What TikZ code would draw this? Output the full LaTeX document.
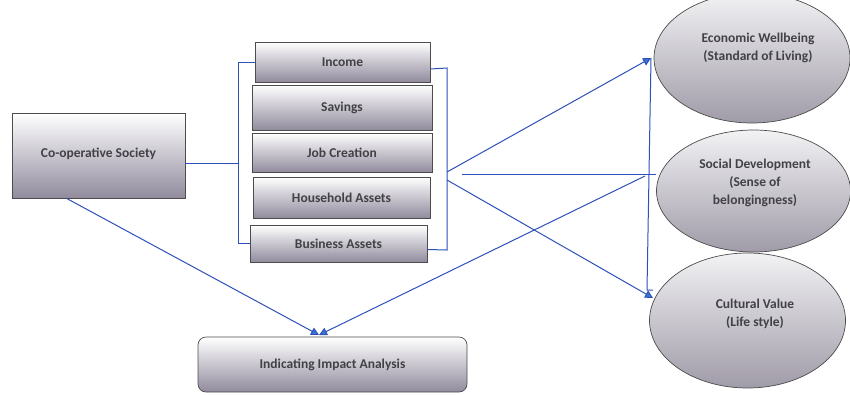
\documentclass[tikz,border=0pt]{standalone}
\usepackage{fontspec}
\setmainfont{Carlito}
\usetikzlibrary{shapes.geometric,arrows.meta}
\definecolor{linkblue}{RGB}{45,80,185}
\definecolor{tipblue}{RGB}{60,115,210}
\definecolor{boxbot}{RGB}{145,139,157}
\definecolor{elltop}{RGB}{242,242,244}
\definecolor{ellbot}{RGB}{160,155,168}
\definecolor{txt}{RGB}{65,65,70}
\tikzset{
  box/.style={draw=black!70, line width=0.7pt, top color=white, bottom color=boxbot,
    font=\bfseries\fontsize{13.5}{16}\selectfont, text=txt, inner sep=0pt, align=center},
  ell/.style={ellipse, draw=black!70, line width=0.7pt, top color=elltop, bottom color=ellbot, inner sep=0pt},
  etext/.style={font=\bfseries\fontsize{13.5}{18}\selectfont, text=txt, align=center, inner sep=0pt},
  link/.style={draw=linkblue, line width=1pt},
  arr/.style={link, -{Triangle[length=8pt,width=8pt,fill=tipblue]}}
}
\begin{document}
\begin{tikzpicture}[x=1pt,y=-1pt]
\useasboundingbox (0,0) rectangle (850,394);
% left boxes
\node[box, minimum width=173pt, minimum height=85pt] (coop) at (98.5,155.5) {\raisebox{6pt}{Co-operative Society}};
\node[box, minimum width=175pt, minimum height=40pt] (income) at (342.5,62) {Income};
\node[box, minimum width=180pt, minimum height=45pt] (savings) at (342,107.5) {Savings};
\node[box, minimum width=180pt, minimum height=39pt] (job) at (342,152.5) {Job Creation};
\node[box, minimum width=177pt, minimum height=41pt] (household) at (341.5,197.5) {Household Assets};
\node[box, minimum width=177pt, minimum height=37pt] (business) at (338.5,243.5) {Business Assets};
\node[box, rounded corners=8pt, minimum width=269pt, minimum height=55pt] (impact) at (332.5,364.5) {Indicating Impact Analysis};
% ellipses
\node[ell, minimum width=196pt, minimum height=130pt] (econ) at (752,58) {};
\node[etext] (econT) at (758,47.5) {Economic Wellbeing\\(Standard of Living)};
\node[ell, minimum width=194pt, minimum height=122pt] (social) at (753.5,191) {};
\node[etext] (socialT) at (755,182.5) {Social Development\\(Sense of\\belongingness)};
\node[ell, minimum width=196pt, minimum height=135pt] (cult) at (747.5,320.5) {};
\node[etext] (cultT) at (755,314) {Cultural Value\\(Life style)};
% coordinates
\coordinate (lbx) at (238,62);
\coordinate (rbtop) at (447,68);
\coordinate (rbbot) at (447,250);
\coordinate (hub) at (447,172);
\coordinate (hubB) at (447,180);
\coordinate (hline) at (462,174);
\coordinate (econtip) at (651,58);
\coordinate (vbot) at (647,290);
\coordinate (vtick) at (653,290);
\coordinate (culttip) at (653,298);
\coordinate (socstart) at (645,176);
\coordinate (imptip) at (319,335);
% brackets
\draw[link] (income.west) -- (lbx) |- (business.west);
\draw[link] ([yshift=-7pt]income.east) -- (rbtop) -- (rbbot) -- ([yshift=-6pt]business.east);
\draw[link] ([yshift=-7.5pt]coop.east) -- ([yshift=-7.5pt]coop.east -| lbx);
% connectors
\draw[arr] (hub) -- (econtip);
\draw[link] (hline) -- (hline -| social.west);
\draw[arr] (hubB) -- (culttip);
\draw[link] (econtip) -- (vbot) -- (vtick);
\draw[arr] (socstart) -- (imptip);
\draw[arr] ([xshift=-32pt]coop.south) -- (imptip);
\end{tikzpicture}
\end{document}
